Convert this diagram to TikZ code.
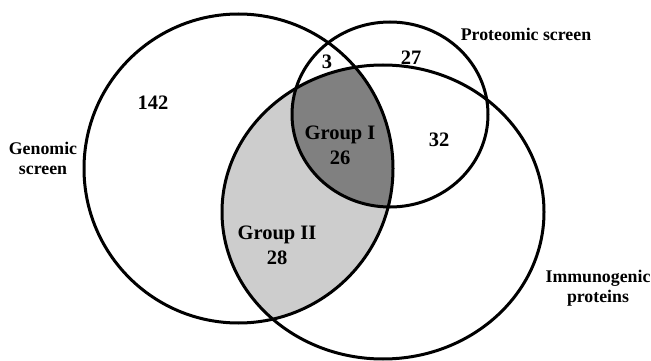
\documentclass[tikz,border=0pt]{standalone}
\usepackage{fontspec}
\setmainfont{Liberation Serif}
\definecolor{darkgrp}{RGB}{128,128,128}
\definecolor{lightgrp}{RGB}{205,205,205}
\begin{document}
\begin{tikzpicture}[x=1pt,y=-1pt,
  ring/.style={draw=black,line width=3pt},
  inlabel/.style={font=\fontsize{20.5}{25}\selectfont\bfseries,align=center,inner sep=0pt},
  outlabel/.style={font=\fontsize{17.8}{20}\selectfont\bfseries,align=center,inner sep=0pt}]
\useasboundingbox (0,0) rectangle (651,361);
\fill[white] (0,0) rectangle (651,361);
% shaded regions
\begin{scope}
  \clip (238.5,168.5) circle [radius=154.5pt];
  \fill[lightgrp] (383,212) ellipse [x radius=161pt, y radius=147pt];
  \clip (390,114.5) ellipse [x radius=98pt, y radius=92.5pt];
  \fill[darkgrp] (383,212) ellipse [x radius=161pt, y radius=147pt];
\end{scope}
% outlines
\draw[ring] (238.5,168.5) circle [radius=154.5pt];
\draw[ring] (390,114.5) ellipse [x radius=98pt, y radius=92.5pt];
\draw[ring] (383,212) ellipse [x radius=161pt, y radius=147pt];
% labels
\node[outlabel] (genomic) at (43,158) {Genomic\\screen};
\node[outlabel] (proteomic) at (526,34) {Proteomic screen};
\node[outlabel] (immuno) at (598,288) {Immunogenic\\proteins};
\node[inlabel] (n142) at (153,103) {142};
\node[inlabel] (n3) at (327,62) {3};
\node[inlabel] (n27) at (411,58) {27};
\node[inlabel] (n32) at (439,140) {32};
\node[inlabel] (grpI) at (340,145.5) {Group I\\26};
\node[inlabel] (grpII) at (277,245) {Group II\\28};
\end{tikzpicture}
\end{document}
